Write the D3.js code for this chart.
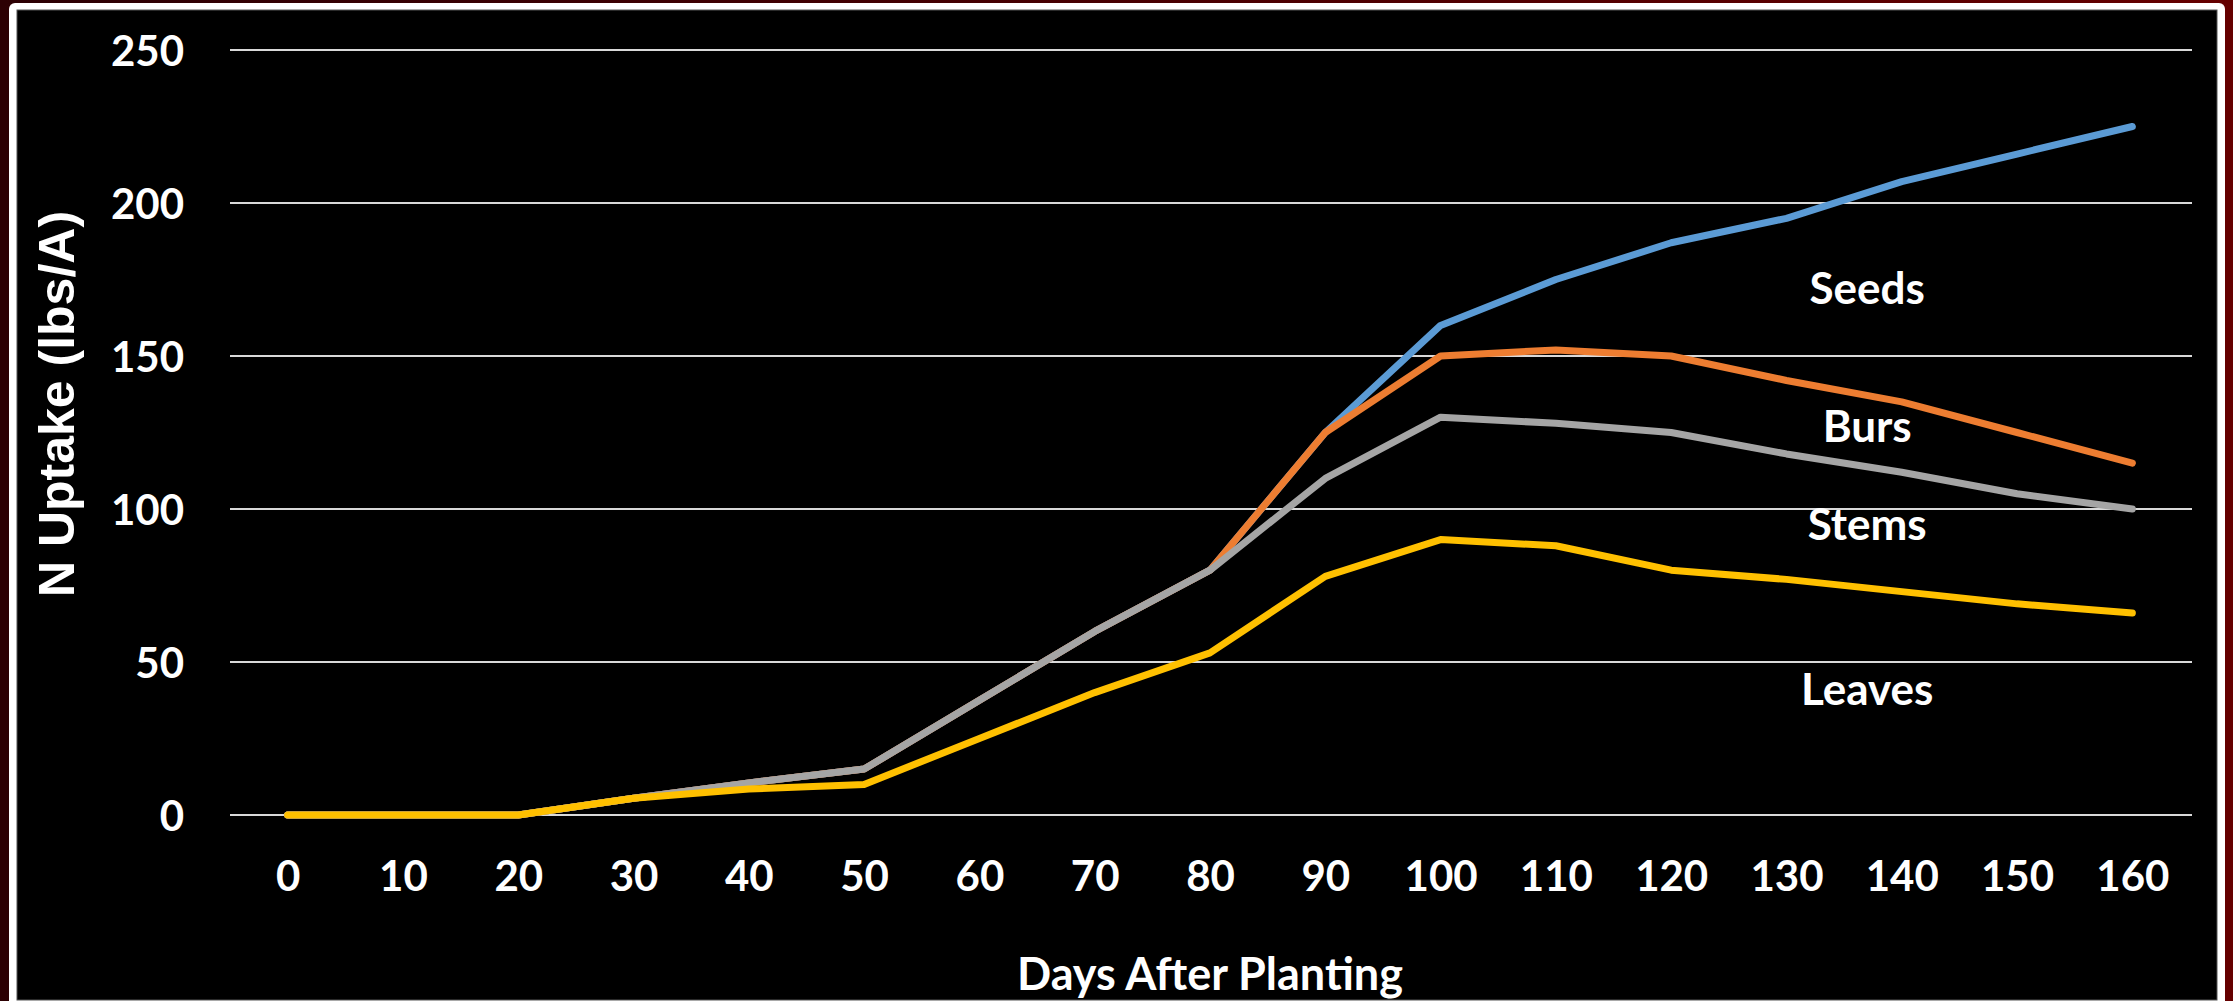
<!DOCTYPE html>
<html>
<head>
<meta charset="utf-8">
<script src="https://cdn.jsdelivr.net/npm/d3@7"></script>
<style>
  html, body { margin: 0; padding: 0; background: #3a0000; overflow: hidden; }
  text { font-family: Lato, "Open Sans", sans-serif; font-weight: bold; fill: #fff; }
</style>
</head>
<body>
<div id="chart"></div>
<script>
const days = [0, 10, 20, 30, 40, 50, 60, 70, 80, 90, 100, 110, 120, 130, 140, 150, 160]
const seeds = [0, 0, 0, 5.5, 10.5, 15, 37.5, 60, 80, 125, 160, 175, 187, 195, 207, 216, 225]
const burs = [0, 0, 0, 5.5, 10.5, 15, 37.5, 60, 80, 125, 150, 152, 150, 142, 135, 125, 115]
const stems = [0, 0, 0, 5.5, 10.5, 15, 37.5, 60, 80, 110, 130, 128, 125, 118, 112, 105, 100]
const leaves = [0, 0, 0, 5.5, 8.5, 10, 25, 40, 53, 78, 90, 88, 80, 77, 73, 69, 66]
const yTicks = [0, 50, 100, 150, 200, 250]

const seriesNames = ["Seeds", "Burs", "Stems", "Leaves"]
const seriesValues = [seeds, burs, stems, leaves]
const seriesColors = ["#5b9bd5", "#ed7d31", "#a5a5a5", "#ffc000"]
// where the inline labels sit (baseline): [day, value]
const labelSpots = [[137, 167], [137, 122], [137, 90], [137, 36]]

const width = 2233, height = 1001
const svg = d3.select("#chart")
    .append("svg")
    .attr("width", width)
    .attr("height", height)

// frame: maroon slide edge, white rounded border, black chart area
const grad = svg.append("defs").append("linearGradient")
    .attr("id", "edge")
grad.append("stop").attr("offset", "0%").attr("stop-color", "#2c0003")
grad.append("stop").attr("offset", "100%").attr("stop-color", "#650000")

svg.append("rect")
    .attr("width", width)
    .attr("height", height)
    .attr("fill", "url(#edge)")
svg.append("rect")
    .attr("x", 9).attr("y", 3)
    .attr("width", 2216).attr("height", 1010)
    .attr("rx", 6)
    .attr("fill", "#fff")
svg.append("rect")
    .attr("x", 17).attr("y", 10)
    .attr("width", 2200).attr("height", 990)
    .attr("fill", "#000")
    .attr("stroke", "#555")
    .attr("stroke-width", 1)

const xScale = d3.scalePoint()
    .domain(days)
    .range([230, 2190])
    .padding(0.5)

const yScale = d3.scaleLinear()
    .domain([0, 250])
    .range([815, 50])

// days -> pixels along the category axis, for the free-floating labels
const xAt = day => xScale(days[0]) + xScale.step() * day / 10

// gridlines
svg.append("g")
    .selectAll("line")
    .data(yTicks)
    .join("line")
    .attr("x1", 230)
    .attr("x2", 2192)
    .attr("y1", d => yScale(d))
    .attr("y2", d => yScale(d))
    .attr("stroke", "#d9d9d9")
    .attr("stroke-width", 2)

// y axis labels
const yAxis = d3.axisLeft(yScale)
    .tickValues(yTicks)
    .tickSize(0)
    .tickPadding(0)
svg.append("g")
    .attr("transform", "translate(184, 0)")
    .call(yAxis)
    .call(g => g.select(".domain").remove())
    .selectAll("text")
    .attr("font-size", 42)
    .attr("fill", "#fff")
    .attr("font-family", "Lato, sans-serif")
    .attr("dy", "0.36em")

// x axis labels
const xAxis = d3.axisBottom(xScale)
    .tickSize(0)
    .tickPadding(0)
svg.append("g")
    .attr("transform", "translate(0, 861)")
    .call(xAxis)
    .call(g => g.select(".domain").remove())
    .selectAll("text")
    .attr("font-size", 42)
    .attr("fill", "#fff")
    .attr("font-family", "Lato, sans-serif")
    .attr("dy", "0.71em")

// lines, first series underneath
const line = d3.line()
    .x((d, i) => xScale(days[i]))
    .y(d => yScale(d))

svg.append("g")
    .selectAll("path")
    .data(seriesValues)
    .join("path")
    .attr("d", line)
    .attr("fill", "none")
    .attr("stroke", (d, i) => seriesColors[i])
    .attr("stroke-width", 7)
    .attr("stroke-linejoin", "round")
    .attr("stroke-linecap", "round")

// inline labels
svg.append("g")
    .selectAll("text")
    .data(seriesNames)
    .join("text")
    .attr("x", (d, i) => xAt(labelSpots[i][0]))
    .attr("y", (d, i) => yScale(labelSpots[i][1]))
    .attr("text-anchor", "middle")
    .attr("font-size", 44)
    .text(d => d)

// axis titles
svg.append("text")
    .attr("x", 1210)
    .attr("y", 990)
    .attr("text-anchor", "middle")
    .attr("font-size", 45)
    .text("Days After Planting")

svg.append("text")
    .attr("transform", "translate(74, 404) rotate(-90)")
    .attr("text-anchor", "middle")
    .attr("font-size", 50)
    .style("font-family", "'Liberation Sans', Arial, sans-serif")
    .text("N Uptake (lbs/A)")
</script>
</body>
</html>
